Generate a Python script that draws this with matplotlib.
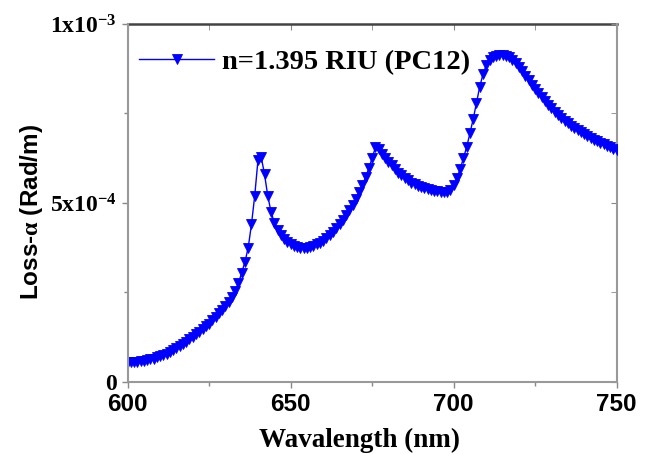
import numpy as np
import matplotlib
matplotlib.use("Agg")
import matplotlib.pyplot as plt
from matplotlib.ticker import FixedLocator

# wavelength (nm), 1 nm step
wavelength = list(range(600, 751))

# loss in units of 1e-4 Rad/m
loss_e4 = [
    0.56, 0.55, 0.55, 0.56, 0.57, 0.59, 0.61, 0.63, 0.65, 0.68,
    0.71, 0.75, 0.79, 0.84, 0.89, 0.94, 1.00, 1.06, 1.12, 1.19,
    1.26, 1.33, 1.40, 1.47, 1.55, 1.63, 1.72, 1.81, 1.91, 2.01,
    2.12, 2.24, 2.38, 2.54, 2.75, 3.05, 3.35, 3.75, 4.40, 5.20,
    6.20, 6.28, 5.80, 5.20, 4.75, 4.45, 4.25, 4.10, 3.99, 3.91,
    3.85, 3.80, 3.77, 3.75, 3.74, 3.75, 3.77, 3.80, 3.84, 3.89,
    3.95, 4.02, 4.10, 4.19, 4.29, 4.40, 4.52, 4.65, 4.79, 4.95,
    5.12, 5.30, 5.50, 5.72, 5.97, 6.25, 6.55, 6.50, 6.38, 6.25,
    6.15, 6.05, 5.95, 5.85, 5.77, 5.70, 5.63, 5.57, 5.52, 5.48,
    5.44, 5.41, 5.38, 5.36, 5.34, 5.32, 5.31, 5.30, 5.30, 5.35,
    5.50, 5.70, 5.95, 6.25, 6.57, 6.95, 7.35, 7.80, 8.25, 8.60,
    8.85, 9.00, 9.08, 9.12, 9.14, 9.14, 9.12, 9.08, 9.00, 8.92,
    8.80, 8.68, 8.56, 8.44, 8.31, 8.19, 8.07, 7.96, 7.85, 7.74,
    7.64, 7.55, 7.46, 7.38, 7.30, 7.23, 7.16, 7.09, 7.03, 6.97,
    6.92, 6.87, 6.82, 6.77, 6.72, 6.68, 6.64, 6.60, 6.56, 6.52,
    6.48,
]
loss = np.array(loss_e4) * 1e-4

series_label = "n=1.395 RIU (PC12)"
xticks = [600, 650, 700, 750]
yticks = [0, 5e-4, 1e-3]
ytick_labels = ["0", r"5x10$^{-4}$", r"1x10$^{-3}$"]

serif = "Liberation Serif"
sans = "Liberation Sans"
plt.rcParams["mathtext.fontset"] = "custom"
plt.rcParams["mathtext.rm"] = "Liberation Serif:bold"
plt.rcParams["mathtext.it"] = "Liberation Serif:bold"
plt.rcParams["mathtext.bf"] = "Liberation Serif:bold"

fig = plt.figure(figsize=(6.54, 4.54), dpi=100)
ax = fig.add_axes([0.195, 0.159, 0.748, 0.788])

ax.plot(wavelength, loss, color="blue", lw=1.0, marker="v", ms=7,
        markeredgewidth=0.6, label=series_label)

ax.set_xlim(600, 750)
ax.set_ylim(0, 1e-3)

ax.xaxis.set_major_locator(FixedLocator(xticks))
ax.xaxis.set_minor_locator(FixedLocator([625, 675, 725]))
ax.yaxis.set_major_locator(FixedLocator(yticks))
ax.yaxis.set_minor_locator(FixedLocator([2.5e-4, 7.5e-4]))
ax.set_yticklabels(ytick_labels)
ax.set_xticklabels([str(v) for v in xticks])

for lab in ax.get_xticklabels():
    lab.set_fontfamily(sans)
    lab.set_fontweight("bold")
    lab.set_fontsize(17.5)
for lab in ax.get_yticklabels():
    lab.set_fontfamily(serif)
    lab.set_fontweight("bold")
    lab.set_fontsize(17)

ax.tick_params(which="both", direction="out", color="#888888", width=1.0)
ax.tick_params(which="major", length=4, pad=4)
ax.tick_params(which="minor", length=3)

# mirrored ticks on top/right pointing inward
top = ax.secondary_xaxis("top")
top.xaxis.set_major_locator(FixedLocator(xticks))
top.xaxis.set_minor_locator(FixedLocator([625, 675, 725]))
top.tick_params(which="both", direction="in", length=4, color="#888888", labeltop=False)
top.spines["top"].set_color("#444444")
top.spines["top"].set_linewidth(1.8)
right = ax.secondary_yaxis("right")
right.yaxis.set_major_locator(FixedLocator(yticks))
right.yaxis.set_minor_locator(FixedLocator([2.5e-4, 7.5e-4]))
right.tick_params(which="both", direction="in", length=4, color="#888888", labelright=False)
right.spines["right"].set_color("#999999")
right.spines["right"].set_linewidth(1.5)

for side in ["left", "bottom"]:
    ax.spines[side].set_color("#999999")
    ax.spines[side].set_linewidth(1.5)
ax.spines["top"].set_visible(False)
ax.spines["right"].set_visible(False)

ax.set_xlabel("Wavalength (nm)", fontfamily=serif, fontweight="bold", fontsize=19.5)
ax.xaxis.set_label_coords(0.475, -0.13)
ax.set_ylabel("Loss-" + r"$\alpha$" + " (Rad/m)", fontfamily=sans, fontweight="bold",
              fontsize=17.5)
ax.yaxis.set_label_coords(-0.168, 0.475)

leg = ax.legend(loc="upper left", frameon=False, handlelength=2.6, handletextpad=0.3,
                borderpad=0.0, borderaxespad=0.42, bbox_to_anchor=(0.0, 0.964),
                prop={"family": serif, "weight": "bold", "size": 20.5})

fig.savefig("out.png", dpi=100)
